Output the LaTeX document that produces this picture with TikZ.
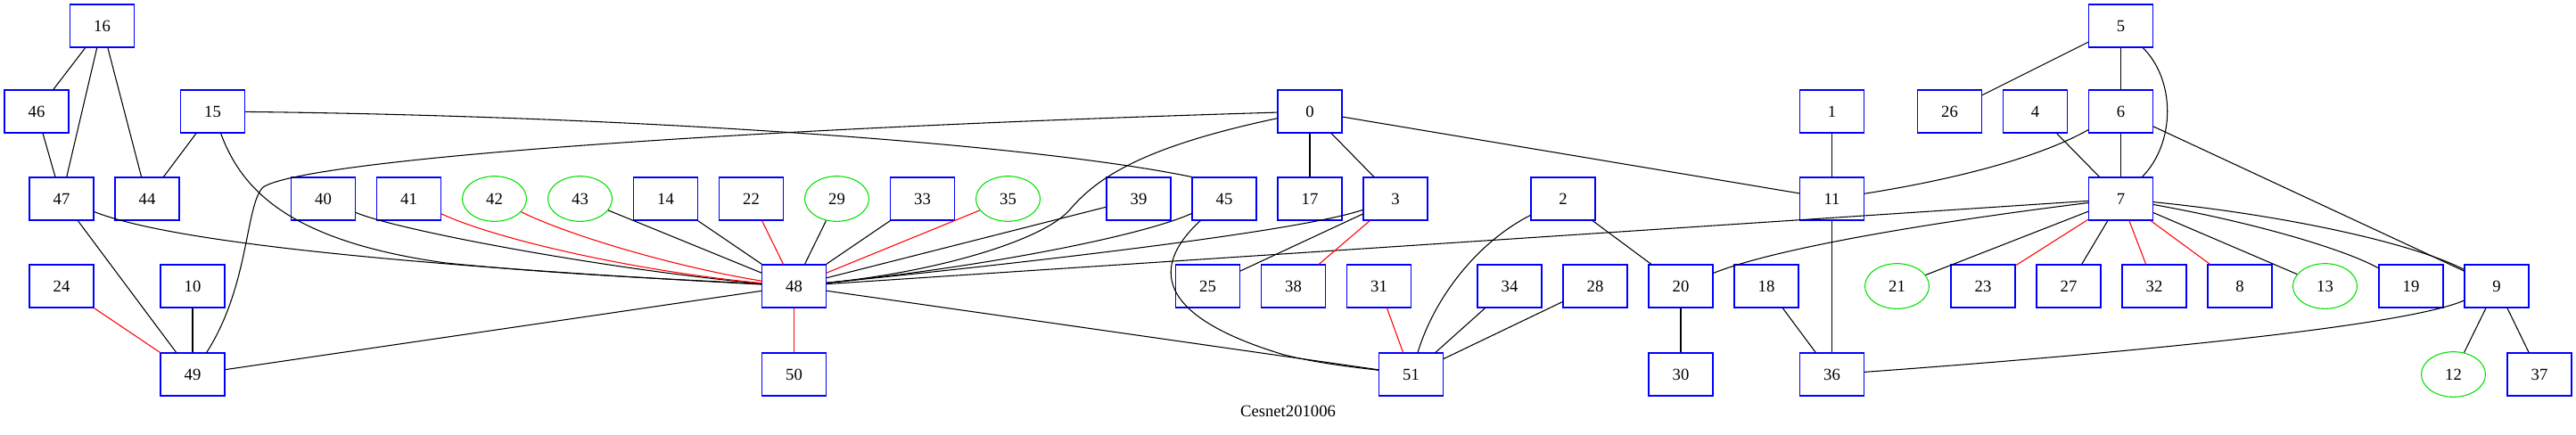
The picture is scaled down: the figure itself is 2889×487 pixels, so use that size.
\documentclass[tikz,border=0pt]{standalone}
\usepackage{fontspec}
\setmainfont{Liberation Serif}
\usepackage{xcolor}
\usepackage{tikz}
\usetikzlibrary{shapes.geometric}

\definecolor{gvblue}{HTML}{0000FF}
\definecolor{gvgreen}{HTML}{00E000}
\definecolor{gvred}{HTML}{FF0000}

\begin{document}
\begin{tikzpicture}[x=0.75pt, y=-0.75pt,
    box/.style={draw=gvblue, line width=0.8pt, rectangle, minimum width=54pt, minimum height=36pt, inner sep=0pt, font=\fontsize{14pt}{16pt}\selectfont},
    oval/.style={draw=gvgreen, line width=0.8pt, ellipse, minimum width=54pt, minimum height=38pt, inner sep=0pt, font=\fontsize{14pt}{16pt}\selectfont},
    link/.style={line width=0.8pt, black},
    redlink/.style={line width=0.8pt, gvred}]
    \useasboundingbox (0,0) rectangle (2889,487);
    % row 1
    \node[box] (n16) at (114.5,29) {16};
    \node[box] (n5) at (2378.5,29) {5};
    % row 2
    \node[box] (n46) at (41,125) {46};
    \node[box] (n15) at (238.5,125) {15};
    \node[box] (n0) at (1469,125) {0};
    \node[box] (n1) at (2054.5,125) {1};
    \node[box] (n26) at (2186.5,125) {26};
    \node[box] (n4) at (2282.5,125) {4};
    \node[box] (n6) at (2378.5,125) {6};
    % row 3
    \node[box] (n47) at (69,223) {47};
    \node[box] (n44) at (165,223) {44};
    \node[box] (n40) at (362.5,223) {40};
    \node[box] (n41) at (458.5,223) {41};
    \node[oval] (n42) at (554.5,223) {42};
    \node[oval] (n43) at (650.5,223) {43};
    \node[box] (n14) at (746.5,223) {14};
    \node[box] (n22) at (842.5,223) {22};
    \node[oval] (n29) at (938.5,223) {29};
    \node[box] (n33) at (1034.5,223) {33};
    \node[oval] (n35) at (1130.5,223) {35};
    \node[box] (n39) at (1277,223) {39};
    \node[box] (n45) at (1373,223) {45};
    \node[box] (n17) at (1469,223) {17};
    \node[box] (n3) at (1565,223) {3};
    \node[box] (n2) at (1753,223) {2};
    \node[box] (n11) at (2054.5,223) {11};
    \node[box] (n7) at (2378.5,223) {7};
    % row 4
    \node[box] (n24) at (69,321) {24};
    \node[box] (n10) at (216,321) {10};
    \node[box] (n48) at (890.5,321) {48};
    \node[box] (n25) at (1354.5,321) {25};
    \node[box] (n38) at (1450.5,321) {38};
    \node[box] (n31) at (1546.5,321) {31};
    \node[box] (n34) at (1693,321) {34};
    \node[box] (n28) at (1789,321) {28};
    \node[box] (n20) at (1885,321) {20};
    \node[box] (n18) at (1981,321) {18};
    \node[oval] (n21) at (2127.5,321) {21};
    \node[box] (n23) at (2224,321) {23};
    \node[box] (n27) at (2320,321) {27};
    \node[box] (n32) at (2416,321) {32};
    \node[box] (n8) at (2512,321) {8};
    \node[oval] (n13) at (2607.5,321) {13};
    \node[box] (n19) at (2704,321) {19};
    \node[box] (n9) at (2800,321) {9};
    % row 5
    \node[box] (n49) at (216,420) {49};
    \node[box] (n50) at (890.5,420) {50};
    \node[box] (n51) at (1582.5,420) {51};
    \node[box] (n30) at (1885,420) {30};
    \node[box] (n36) at (2054.5,420) {36};
    \node[oval] (n12) at (2751.5,420) {12};
    \node[box] (n37) at (2848,420) {37};
    \node[font=\fontsize{14pt}{16pt}\selectfont] (title) at (1444.5,461) {Cesnet201006};
    % straight links
    \foreach \a/\b in {n16/n46, n16/n47, n16/n44, n46/n47, n15/n44, n0/n17, n0/n3, n0/n11,
        n47/n49, n10/n49, n49/n48, n43/n48, n14/n48, n29/n48, n33/n48, n39/n48,
        n3/n25, n7/n48, n48/n51, n2/n20, n34/n51, n28/n51, n20/n30, n7/n21, n7/n27,
        n7/n13, n4/n7, n6/n7, n5/n6, n5/n26, n6/n9, n1/n11, n11/n36, n18/n36, n9/n12, n9/n37}
      \draw[link] (\a) -- (\b);
    \foreach \a/\b in {n24/n49, n22/n48, n35/n48, n48/n50, n3/n38, n31/n51, n7/n23, n7/n32, n7/n8}
      \draw[redlink] (\a) -- (\b);
    % curved links
    \draw[link] (n0) .. controls (800,145) and (340,180) .. (295,210) .. controls (275,230) and (280,320) .. (n49);
    \draw[link] (n0) .. controls (1280,165) and (1230,200) .. (1200,235) .. controls (1170,270) and (1050,305) .. (n48);
    \draw[link] (n15) .. controls (270,210) and (320,270) .. (500,295) .. controls (650,310) and (800,315) .. (n48);
    \draw[link] (n15) .. controls (700,130) and (1150,160) .. (n45.north west);
    \draw[link] (n47) .. controls (200,275) and (500,300) .. (n48);
    \draw[link] (n40) .. controls (450,260) and (700,305) .. (n48);
    \draw[redlink] (n41) .. controls (560,270) and (720,305) .. (n48);
    \draw[redlink] (n42) .. controls (640,265) and (760,300) .. (n48);
    \draw[link] (n45) .. controls (1280,265) and (1100,300) .. (n48);
    \draw[link] (n3) .. controls (1450,262) and (1100,300) .. (n48);
    \draw[link] (n45) .. controls (1300,290) and (1280,350) .. (1440,398) .. controls (1480,408) and (1520,412) .. (n51);
    \draw[link] (n2) .. controls (1660,270) and (1610,330) .. (n51);
    \draw[link] (n6) .. controls (2290,175) and (2200,200) .. (n11);
    \draw[link] (n5) .. controls (2440,90) and (2440,160) .. (n7);
    \draw[link] (n7) .. controls (2200,245) and (2000,275) .. (n20);
    \draw[link] (n7) .. controls (2550,240) and (2700,270) .. (n9);
    \draw[link] (n7) .. controls (2530,250) and (2630,280) .. (n19);
    \draw[link] (n9) .. controls (2700,365) and (2400,395) .. (n36);
  \end{tikzpicture}
\end{document}
